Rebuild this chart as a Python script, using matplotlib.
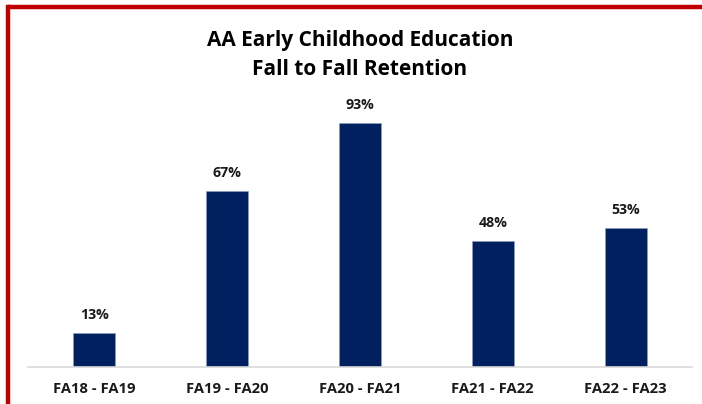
import matplotlib
matplotlib.use("Agg")
import matplotlib.pyplot as plt
from matplotlib.lines import Line2D

categories = ["FA18 - FA19", "FA19 - FA20", "FA20 - FA21", "FA21 - FA22", "FA22 - FA23"]
values = [13, 67, 93, 48, 53]
title = "AA Early Childhood Education\nFall to Fall Retention"

plt.rcParams['font.family'] = ['Open Sans', 'DejaVu Sans']

fig = plt.figure(figsize=(7.02, 4.04), dpi=100)
W, H = 702, 404
ax = fig.add_axes([28 / W, 1 - 367 / H, 664 / W, 262 / H])
x = list(range(len(categories)))
bars = ax.bar(x, values, width=0.316, color="#002060", edgecolor="#8fa0c0", linewidth=0.4)
ax.set_xlim(-0.5, 4.5)
ax.set_ylim(0, 100)
for xi, v in zip(x, values):
    ax.annotate(f"{v}%", (xi, v), xytext=(0, 8), textcoords="offset points",
                ha="center", va="bottom", fontsize=10.2, fontweight="bold", color="#1a1a1a")
ax.set_xticks(x)
ax.set_xticklabels(categories, fontsize=10.6, fontweight="bold", color="#1a1a1a")
ax.tick_params(axis="x", length=0, pad=11)
ax.set_yticks([])
for s in ["top", "right", "left"]:
    ax.spines[s].set_visible(False)
ax.spines["bottom"].set_color("#d9d9d9")
ax.spines["bottom"].set_linewidth(1.2)

fig.text(360 / W, 1 - 55 / H, title, ha="center", va="center", fontsize=15,
         fontweight="bold", color="#000000", linespacing=1.5)

# red frame (left and top)
fig.add_artist(Line2D([8 / W, 8 / W], [0, 1 - 7 / H], color="#c00000", lw=3.2,
                      solid_capstyle="projecting", transform=fig.transFigure))
fig.add_artist(Line2D([8 / W, 1], [1 - 7 / H, 1 - 7 / H], color="#c00000", lw=3.2,
                      solid_capstyle="butt", transform=fig.transFigure))

fig.savefig("out.png", dpi=100)
